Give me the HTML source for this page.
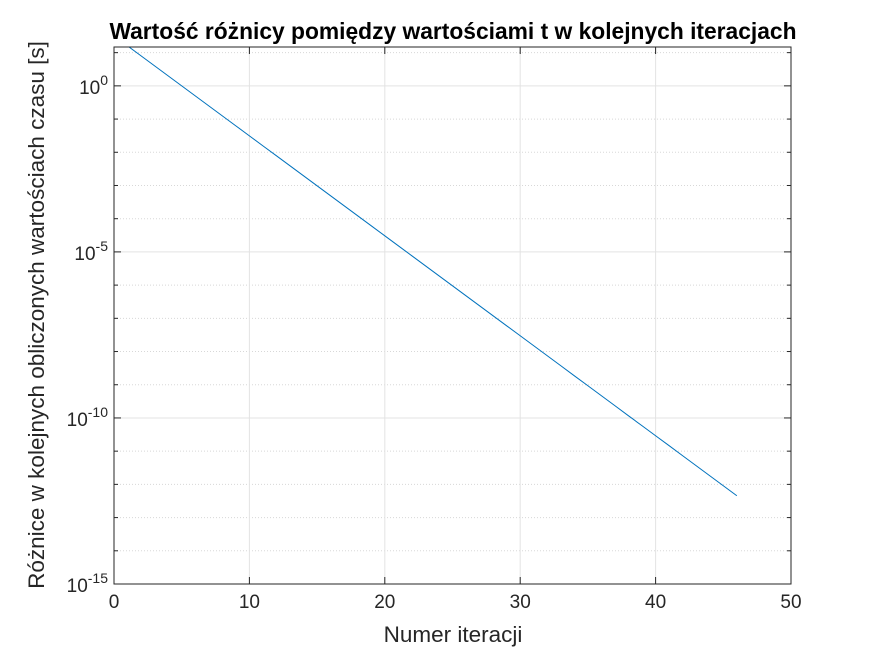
<!DOCTYPE html>
<html><head><meta charset="utf-8"><style>
body{margin:0;background:#fff;}
svg{display:block;font-family:"Liberation Sans",Arial,sans-serif;}
</style></head><body>
<svg id="chart" width="875" height="656">
<rect width="875" height="656" fill="#fff"/>
<g id="grid"></g>
<g id="series"></g>
<g id="axes"></g>
<text x="453" y="39" text-anchor="middle" font-size="22.8" font-weight="bold" fill="#000">Wartość różnicy pomiędzy wartościami t w kolejnych iteracjach</text>
<text x="453" y="642" text-anchor="middle" font-size="22.5" fill="#262626">Numer iteracji</text>
<text transform="translate(44,315) rotate(-90)" text-anchor="middle" font-size="22.5" fill="#262626">Różnice w kolejnych obliczonych wartościach czasu [s]</text>
</svg>
<script>
const iterations=[1,2,3,4,5,6,7,8,9,10,11,12,13,14,15,16,17,18,19,20,21,22,23,24,25,26,27,28,29,30,31,32,33,34,35,36,37,38,39,40,41,42,43,44,45,46];
const differences=[16,8,4,2,1,0.5,0.25,0.125,6.25e-2,3.125e-2,1.5625e-2,7.8125e-3,3.90625e-3,1.953125e-3,9.765625e-4,4.8828125e-4,2.44140625e-4,1.220703125e-4,6.103515625e-5,3.0517578125e-5,1.52587890625e-5,7.62939453125e-6,3.814697265625e-6,1.9073486328125e-6,9.5367431640625e-7,4.76837158203125e-7,2.384185791015625e-7,1.1920928955078125e-7,5.96e-8,2.98e-8,1.49e-8,7.45e-9,3.73e-9,1.86e-9,9.31e-10,4.66e-10,2.33e-10,1.16e-10,5.82e-11,2.91e-11,1.46e-11,7.28e-12,3.64e-12,1.82e-12,9.09e-13,4.55e-13];
const xTicks=[0,10,20,30,40,50];
const yMajorExp=[0,-5,-10,-15];
const yTickLabels=["10","10","10","10"];
const xMin=0,xMax=50,yMinExp=-15,yMaxExp=1.17;
const L=114,R=791,T=47,B=584;
const NS="http://www.w3.org/2000/svg";
function sx(v){return L+(v-xMin)/(xMax-xMin)*(R-L);}
function sy(v){return B-(Math.log10(v)-yMinExp)/(yMaxExp-yMinExp)*(B-T);}
function syE(e){return B-(e-yMinExp)/(yMaxExp-yMinExp)*(B-T);}
function mk(t,a,p){const e=document.createElementNS(NS,t);for(const k in a)e.setAttribute(k,a[k]);p.appendChild(e);return e;}
const grid=document.getElementById('grid'),axes=document.getElementById('axes'),ser=document.getElementById('series');
for(let e=-14;e<=1;e++){if(yMajorExp.includes(e))continue;const y=syE(e);
 const g=mk('line',{x1:L,x2:R,y1:y,y2:y,stroke:'#d8d8d8','stroke-width':1,'stroke-dasharray':'1,2'},grid);
 
 
 const t1=mk('line',{x1:L,x2:L+4,y1:y,y2:y,stroke:'#262626'},axes);
 
 
 const t2=mk('line',{x1:R,x2:R-4,y1:y,y2:y,stroke:'#262626'},axes);
 
 }
yMajorExp.forEach((e,i)=>{const y=syE(e);
 const g=mk('line',{x1:L,x2:R,y1:y,y2:y,stroke:'#e3e3e3','stroke-width':1},grid);
 
 
 const t1=mk('line',{x1:L,x2:L+7,y1:y,y2:y,stroke:'#262626'},axes);
 
 
 const t2=mk('line',{x1:R,x2:R-7,y1:y,y2:y,stroke:'#262626'},axes);
 
 
 const tx=mk('text',{x:L-6,y:y+8,'text-anchor':'end','font-size':'19',fill:'#262626'},axes);
 
 
 tx.appendChild(document.createTextNode(yTickLabels[i]));
 const sp=mk('tspan',{dy:'-9','font-size':'14'},tx);sp.textContent=String(e);});
xTicks.forEach(v=>{const x=sx(v);
 const g=mk('line',{x1:x,x2:x,y1:T,y2:B,stroke:'#e3e3e3'},grid);
 
 
 const t1=mk('line',{x1:x,x2:x,y1:B,y2:B-7,stroke:'#262626'},axes);
 
 
 const t2=mk('line',{x1:x,x2:x,y1:T,y2:T+7,stroke:'#262626'},axes);
 
 
 const tx=mk('text',{x:x,y:B+24,'text-anchor':'middle','font-size':'19',fill:'#262626'},axes);
 
 
 tx.textContent=String(v);});
const box=mk('rect',{x:L,y:T,width:R-L,height:B-T,fill:'none',stroke:'#262626','stroke-width':1},axes);


const cp=mk('clipPath',{id:'clip'},ser);mk('rect',{x:L,y:T,width:R-L,height:B-T},cp);
const pts=iterations.map((v,i)=>sx(v).toFixed(2)+','+sy(differences[i]).toFixed(2)).join(' ');
const line=mk('polyline',{points:pts,fill:'none',stroke:'#0072bd','stroke-width':1,'clip-path':'url(#clip)'},ser);


</script>
</body></html>
